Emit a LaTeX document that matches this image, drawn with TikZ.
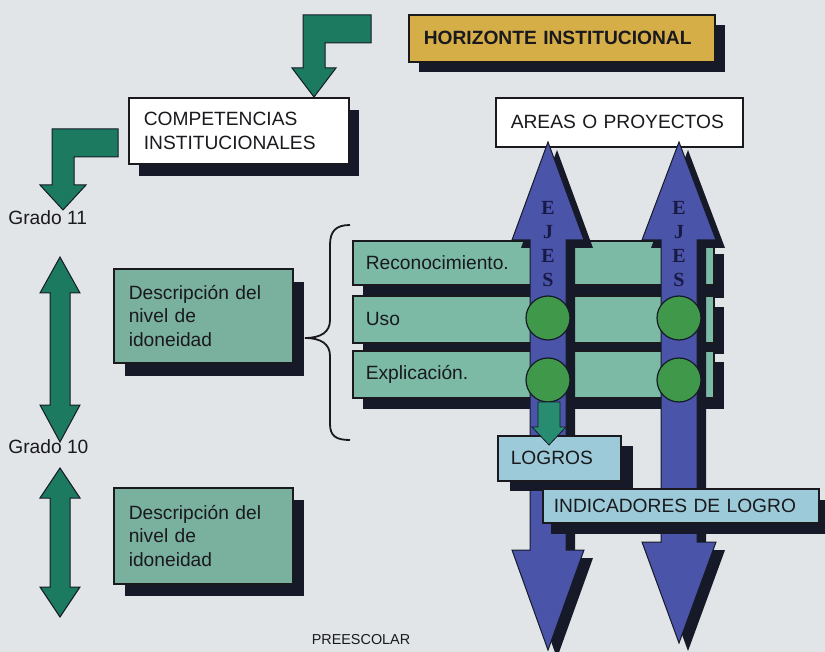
\documentclass[tikz,border=0pt]{standalone}
\usepackage{fontspec}
\setmainfont{Liberation Sans}
\newfontfamily\ejesfont{Liberation Serif}
\usetikzlibrary{shadows}
\definecolor{bgc}{RGB}{226,229,231}
\definecolor{goldc}{RGB}{214,174,72}
\definecolor{shd}{RGB}{22,26,40}
\definecolor{descc}{RGB}{122,176,158}
\definecolor{barc}{RGB}{124,186,166}
\definecolor{lblue}{RGB}{156,202,216}
\definecolor{garr}{RGB}{28,122,96}
\definecolor{sgarr}{RGB}{40,140,112}
\definecolor{bluc}{RGB}{74,84,168}
\definecolor{circc}{RGB}{64,152,74}
\definecolor{ink}{RGB}{25,25,30}
\definecolor{navyc}{RGB}{25,25,70}
\newcommand\dblarr[7]{(#1,#2) -- (#1+#6,#3) -- (#1+#7,#3) -- (#1+#7,#4) -- (#1+#6,#4) -- (#1,#5) -- (#1-#6,#4) -- (#1-#7,#4) -- (#1-#7,#3) -- (#1-#6,#3) -- cycle}
\tikzset{
  box/.style={draw=ink, line width=0.8pt, anchor=north west, inner xsep=7.5pt, inner ysep=0pt,
    align=left, text=ink, font=\fontsize{9.6}{11.8}\selectfont},
  shadowed/.style 2 args={general shadow={fill=shd, shadow xshift=#1, shadow yshift=#2}},
  lbl/.style={text=ink, font=\fontsize{9.6}{11.8}\selectfont, inner sep=0pt},
  garrow/.style={fill=garr, draw=shd, line width=0.5pt, line join=miter},
  barrow/.style={fill=bluc, draw=shd, line width=0.5pt},
  bshadow/.style={fill=shd},
  ejes/.style={text=navyc, font=\ejesfont\bfseries\fontsize{10}{12}\selectfont, inner sep=0pt},
  dot/.style={circle, fill=circc, draw=shd, line width=0.6pt, minimum size=22pt, inner sep=0pt},
}
\begin{document}
\begin{tikzpicture}[x=0.5pt,y=-0.5pt]
\useasboundingbox (0,0) rectangle (825,652);
\fill[bgc] (0,0) rectangle (825,652);

% top bent arrow
\draw[garrow] (371,15) -- (303,15) -- (303,68) -- (292,68) -- (314,97) -- (336,68) -- (325,68) -- (325,43) -- (371,43) -- cycle;

\node[box, shadowed={5pt}{-5pt}, fill=goldc, minimum width=153pt, minimum height=23.5pt, text width=138pt,
  font=\bfseries\fontsize{9.6}{11.8}\selectfont] (hor) at (408,14) {HORIZONTE INSTITUCIONAL};

\node[box, shadowed={5pt}{-6pt}, fill=white, minimum width=107.5pt, minimum height=33pt, text width=95pt,
  font=\fontsize{9.6}{12}\selectfont] (comp) at (128,97) {COMPETENCIAS\\INSTITUCIONALES};

\node[box, fill=white, minimum width=123.5pt, minimum height=24.5pt, text width=108.5pt] (areas) at (495,97) {AREAS O PROYECTOS};

% left bent arrow
\node[lbl, anchor=west] (g11) at (8,218) {Grado 11};
\draw[garrow] (118,129) -- (52,129) -- (52,185) -- (40,185) -- (63,210) -- (86,185) -- (74,185) -- (74,157) -- (118,157) -- cycle;

% grade double arrows
\node[lbl, anchor=west] (g10) at (8,447) {Grado 10};
\draw[garrow] \dblarr{60}{257}{293}{405}{442}{20}{10};
\draw[garrow] \dblarr{60}{468}{498}{587}{617}{20}{10};

% description boxes
\node[box, shadowed={5.5pt}{-6.5pt}, fill=descc, minimum width=89.5pt, minimum height=47pt, text width=74.5pt] (d1) at (113,268)
  {Descripción del\\nivel de\\idoneidad};
\node[box, shadowed={5.5pt}{-6pt}, fill=descc, minimum width=89.5pt, minimum height=48pt, text width=74.5pt] (d2) at (113,487)
  {Descripción del\\nivel de\\idoneidad};

% brace
\draw[ink, line width=0.9pt] (350,225) .. controls (336,225) and (330,231) .. (330,245) -- (330,320)
  .. controls (330,332) and (321,338) .. (305,338) .. controls (321,338) and (330,344) .. (330,356)
  -- (330,424) .. controls (330,436) and (336,440) .. (350,440);

% bars
\node[box, shadowed={5pt}{-6.5pt}, fill=barc, minimum width=180.5pt, minimum height=22pt, text width=167.5pt, inner xsep=6.5pt] (b1) at (352,240) {Reconocimiento.};
\node[box, shadowed={5pt}{-5.5pt}, fill=barc, minimum width=180.5pt, minimum height=23.5pt, text width=167.5pt, inner xsep=6.5pt] (b2) at (352,295) {Uso};
\node[box, shadowed={5pt}{-5.5pt}, fill=barc, minimum width=180.5pt, minimum height=23.5pt, text width=167.5pt, inner xsep=6.5pt] (b3) at (352,350) {Explicación.};

% blue axis arrows
\fill[bshadow, shift={(9,8)}] \dblarr{548}{142}{240}{550}{650}{36}{18};
\draw[barrow] \dblarr{548}{142}{240}{550}{650}{36}{18};
\fill[bshadow, shift={(9,8)}] \dblarr{679}{142}{240}{542}{643}{37}{18};
\draw[barrow] \dblarr{679}{142}{240}{542}{643}{37}{18};

\node[ejes] (e1a) at (548,208) {E};
\node[ejes] (e1b) at (548,232) {J};
\node[ejes] (e1c) at (548,256) {E};
\node[ejes] (e1d) at (548,280) {S};
\node[ejes] (e2a) at (679,208) {E};
\node[ejes] (e2b) at (679,232) {J};
\node[ejes] (e2c) at (679,256) {E};
\node[ejes] (e2d) at (679,280) {S};

\node[dot] (c11) at (548,318) {};
\node[dot] (c12) at (548,380) {};
\node[dot] (c21) at (679,318) {};
\node[dot] (c22) at (679,380) {};

% logros
\node[box, shadowed={6pt}{-5pt}, fill=lblue, minimum width=61.5pt, minimum height=22.5pt, text width=48.5pt, inner xsep=6.5pt] (logros) at (497,435) {LOGROS};
\draw[fill=sgarr, draw=shd, line width=0.4pt] (538,402) -- (560,402) -- (560,427) -- (566,427) -- (549,445) -- (532,427) -- (538,427) -- cycle;

\node[box, shadowed={4pt}{-5.5pt}, fill=lblue, minimum width=138pt, minimum height=17pt, text width=127pt, inner xsep=5.5pt] (ind) at (542,488) {INDICADORES DE LOGRO};

\node[text=ink, font=\fontsize{7.2}{8}\selectfont, inner sep=0pt] (pre) at (361,640) {PREESCOLAR};
\end{tikzpicture}
\end{document}
